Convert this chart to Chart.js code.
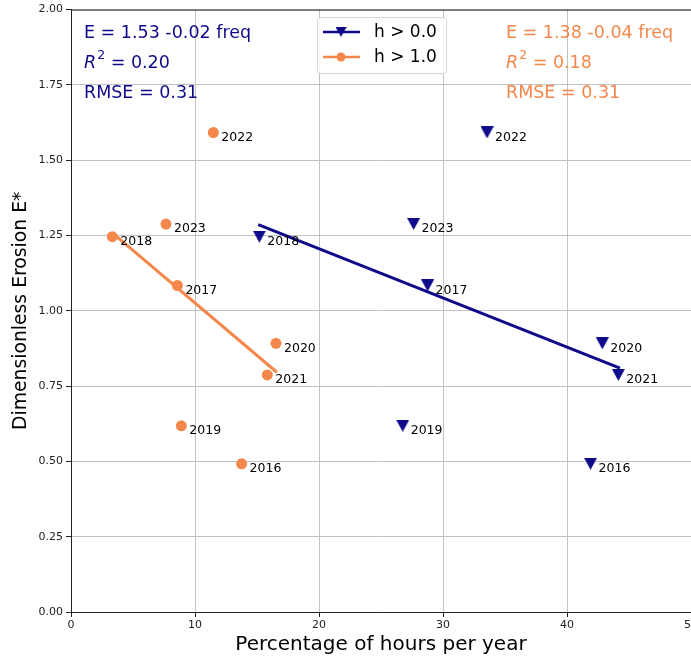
<!DOCTYPE html>
<html>
<head>
<meta charset="utf-8">
<script src="https://cdn.jsdelivr.net/npm/chart.js@4"></script>
<style>
  html, body { margin: 0; padding: 0; background: #fff; overflow: hidden; }
  #wrap { width: 760px; height: 660px; }
</style>
</head>
<body>
<div id="wrap"><canvas id="erosionChart"></canvas></div>
<script>
// values
const years = ['2016', '2017', '2018', '2019', '2020', '2021', '2022', '2023'];
const erosion = [0.492, 1.084, 1.246, 0.618, 0.892, 0.787, 1.592, 1.288];
const freqAll = [41.9, 28.76, 15.19, 26.75, 42.85, 44.14, 33.55, 27.63];   // h > 0.0
const freqHigh = [13.76, 8.58, 3.33, 8.9, 16.53, 15.83, 11.48, 7.66];     // h > 1.0

// regression lines (end points)
const fitAllX = [15.1, 44.27];
const fitAllY = [1.286, 0.810];
const fitHighX = [3.33, 16.6];
const fitHighY = [1.259, 0.796];

const xTicks = [0, 10, 20, 30, 40, 50];
const yTicks = [0, 0.25, 0.5, 0.75, 1.0, 1.25, 1.5, 1.75, 2.0];

const blue = '#0f0a8a';
const orange = '#f4874b';
const gridGray = '#c2c2c2';

// downward triangle marker like matplotlib 'v'
function makeTriangle(w, h) {
    const c = document.createElement('canvas');
    c.width = w; c.height = h;
    const t = c.getContext('2d');
    t.fillStyle = blue;
    t.beginPath();
    t.moveTo(0, 0);
    t.lineTo(w, 0);
    t.lineTo(w / 2, h);
    t.closePath();
    t.fill();
    return c;
}
const triangle = makeTriangle(13, 12);

const toPoints = (xs, ys) => xs.map((x, i) => ({ x: x, y: ys[i] }));

// year labels next to each marker
const yearLabels = {
    id: 'yearLabels',
    afterDatasetsDraw(chart) {
        const ctx = chart.ctx;
        ctx.save();
        ctx.font = '12.5px "DejaVu Sans"';
        ctx.fillStyle = '#000';
        ctx.textBaseline = 'middle';
        ctx.textAlign = 'left';
        [2, 3].forEach(di => {
            chart.getDatasetMeta(di).data.forEach((pt, i) => {
                ctx.fillText(years[i], pt.x + 8, pt.y + 5);
            });
        });
        ctx.restore();
    }
};

// frame, equations and legend
const decorations = {
    id: 'decorations',
    afterDraw(chart) {
        const ctx = chart.ctx;
        const a = chart.chartArea;
        ctx.save();
        // top spine
        ctx.strokeStyle = '#222';
        ctx.lineWidth = 1;
        ctx.beginPath();
        ctx.moveTo(a.left, a.top + 0.5);
        ctx.lineTo(a.right, a.top + 0.5);
        ctx.stroke();

        function stats(x, color, eq, r2, rmse) {
            ctx.fillStyle = color;
            ctx.textBaseline = 'middle';
            ctx.textAlign = 'left';
            ctx.font = '17.5px "DejaVu Sans"';
            ctx.fillText(eq, x, 33);
            ctx.font = 'italic 17.5px "DejaVu Sans"';
            ctx.fillText('R', x, 63);
            let w = ctx.measureText('R').width;
            ctx.font = '12.5px "DejaVu Sans"';
            ctx.fillText('2', x + w + 1, 56);
            w += 1 + ctx.measureText('2').width;
            ctx.font = '17.5px "DejaVu Sans"';
            ctx.fillText(' = ' + r2, x + w, 63);
            ctx.fillText('RMSE = ' + rmse, x, 93);
        }
        stats(84, blue, 'E = 1.53 -0.02 freq', '0.20', '0.31');
        stats(506, orange, 'E = 1.38 -0.04 freq', '0.18', '0.31');

        // legend box
        const bx = 317, by = 17, bw = 129, bh = 56;
        ctx.fillStyle = 'rgba(255,255,255,0.85)';
        ctx.strokeStyle = '#d6d6d6';
        ctx.lineWidth = 1;
        ctx.beginPath();
        ctx.roundRect(bx + 0.5, by + 0.5, bw, bh, 3);
        ctx.fill();
        ctx.stroke();

        ctx.lineWidth = 2.5;
        ctx.strokeStyle = blue;
        ctx.beginPath();
        ctx.moveTo(323, 32);
        ctx.lineTo(360, 32);
        ctx.stroke();
        ctx.drawImage(triangle, 341 - 5.5, 32 - 5, 11, 10);

        ctx.strokeStyle = orange;
        ctx.fillStyle = orange;
        ctx.beginPath();
        ctx.moveTo(323, 57);
        ctx.lineTo(360, 57);
        ctx.stroke();
        ctx.beginPath();
        ctx.arc(341, 57, 4.5, 0, Math.PI * 2);
        ctx.fill();

        ctx.fillStyle = '#000';
        ctx.font = '17px "DejaVu Sans"';
        ctx.textBaseline = 'middle';
        ctx.fillText('h > 0.0', 374, 33);
        ctx.fillText('h > 1.0', 374, 58);
        ctx.restore();
    }
};

const ctx = document.getElementById('erosionChart').getContext('2d');

const erosionChart = new Chart(ctx, {
    type: 'scatter',
    data: {
        datasets: [
            {
                // fit line h > 0.0
                type: 'line',
                data: toPoints(fitAllX, fitAllY),
                borderColor: blue,
                borderWidth: 3,
                pointRadius: 0,
                fill: false
            },
            {
                // fit line h > 1.0
                type: 'line',
                data: toPoints(fitHighX, fitHighY),
                borderColor: orange,
                borderWidth: 3,
                pointRadius: 0,
                fill: false
            },
            {
                label: 'h > 0.0',
                data: toPoints(freqAll, erosion),
                pointStyle: triangle,
                pointRadius: 6,
                backgroundColor: blue,
                borderWidth: 0
            },
            {
                label: 'h > 1.0',
                data: toPoints(freqHigh, erosion),
                pointStyle: 'circle',
                pointRadius: 5.5,
                backgroundColor: orange,
                borderWidth: 0
            }
        ]
    },
    options: {
        responsive: true,
        maintainAspectRatio: false,
        animation: false,
        layout: {
            padding: { top: 8, right: 69, left: 0, bottom: 0 }
        },
        plugins: {
            legend: { display: false },
            tooltip: { enabled: false }
        },
        scales: {
            x: {
                type: 'linear',
                min: 0,
                max: 50,
                afterBuildTicks: axis => { axis.ticks = xTicks.map(v => ({ value: v })); },
                afterFit: axis => { axis.height = 48; },
                grid: {
                    color: gridGray,
                    lineWidth: 1,
                    tickLength: 5,
                    tickColor: '#222'
                },
                border: { color: '#222', width: 1 },
                ticks: {
                    padding: 2,
                    color: '#222',
                    maxRotation: 0,
                    font: { family: 'DejaVu Sans', size: 11 },
                    callback: v => String(v)
                },
                title: {
                    display: true,
                    text: 'Percentage of hours per year',
                    color: '#000',
                    font: { family: 'DejaVu Sans', size: 20, lineHeight: 1.2 },
                    padding: { top: 0, bottom: 3 }
                }
            },
            y: {
                min: 0,
                max: 2,
                afterBuildTicks: axis => { axis.ticks = yTicks.map(v => ({ value: v })); },
                afterFit: axis => { axis.width = 71; },
                grid: {
                    color: gridGray,
                    lineWidth: 1,
                    tickLength: 5,
                    tickColor: '#222'
                },
                border: { color: '#222', width: 1 },
                ticks: {
                    padding: 3,
                    color: '#222',
                    font: { family: 'DejaVu Sans', size: 11 },
                    callback: v => v.toFixed(2)
                },
                title: {
                    display: true,
                    text: 'Dimensionless Erosion E*',
                    color: '#000',
                    font: { family: 'DejaVu Sans', size: 18.8, lineHeight: 1.2 },
                    padding: { top: 10, bottom: 0 }
                }
            }
        }
    },
    plugins: [yearLabels, decorations]
});
</script>
</body>
</html>
